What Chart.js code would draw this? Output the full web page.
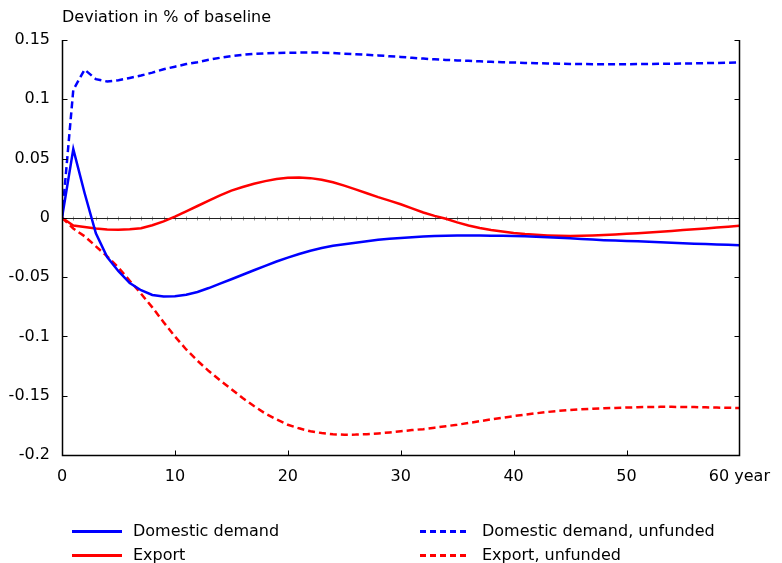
<!DOCTYPE html>
<html>
<head>
<meta charset="utf-8">
<script src="https://cdn.jsdelivr.net/npm/chart.js@4.4.1/dist/chart.umd.min.js"></script>
<style>
    body { margin: 0; background: #fff; }
    #wrap { position: relative; width: 782px; height: 563px; overflow: hidden; }
    .legend-item { position: absolute; height: 20px; font: 16px "DejaVu Sans", sans-serif; color: #000; white-space: nowrap; }
    .legend-line { position: absolute; top: 9px; height: 2.5px; }
    .legend-text { position: absolute; top: 0; line-height: 20px; }
</style>
</head>
<body>
<div id="wrap">
    <canvas id="chart" width="782" height="563"></canvas>
</div>
<script>
// years on the x axis (annual values)
const years = [0, 1, 2, 3, 4, 5, 6, 7, 8, 9, 10, 11, 12, 13, 14, 15, 16, 17, 18, 19, 20,
    21, 22, 23, 24, 25, 26, 27, 28, 29, 30, 31, 32, 33, 34, 35, 36, 37, 38, 39, 40,
    41, 42, 43, 44, 45, 46, 47, 48, 49, 50, 51, 52, 53, 54, 55, 56, 57, 58, 59, 60];

const domesticDemand = [0, 0.058, 0.021, -0.013, -0.033, -0.045, -0.055, -0.061, -0.065, -0.0664, -0.0662,
    -0.0648, -0.0625, -0.0592, -0.0555, -0.0518, -0.048, -0.0442, -0.0405, -0.0368, -0.0335,
    -0.0305, -0.0278, -0.0255, -0.0235, -0.0222, -0.021, -0.0197, -0.0185, -0.0176, -0.017,
    -0.0163, -0.0158, -0.0154, -0.015, -0.0149, -0.0148, -0.0149, -0.015, -0.0151, -0.0153,
    -0.0156, -0.016, -0.0164, -0.0168, -0.0173, -0.0178, -0.0183, -0.0188, -0.0192, -0.0195,
    -0.0198, -0.0202, -0.0206, -0.021, -0.0214, -0.0218, -0.0221, -0.0224, -0.0227, -0.023];

const domesticDemandUnfunded = [0, 0.108, 0.125, 0.117, 0.115, 0.116, 0.118, 0.120, 0.1225, 0.1253, 0.1275,
    0.1297, 0.1313, 0.1333, 0.135, 0.1364, 0.1375, 0.1383, 0.1388, 0.139, 0.1392,
    0.1394, 0.1395, 0.1393, 0.139, 0.1385, 0.138, 0.1375, 0.137, 0.1363, 0.1357,
    0.135, 0.1343, 0.1337, 0.1332, 0.1328, 0.1324, 0.132, 0.1316, 0.1313, 0.131,
    0.1307, 0.1304, 0.1302, 0.130, 0.1298, 0.1297, 0.1296, 0.1296, 0.1296, 0.1296,
    0.1297, 0.1298, 0.1299, 0.130, 0.1302, 0.1303, 0.1305, 0.1306, 0.1308, 0.131];

const exportDemand = [0, -0.0065, -0.0078, -0.009, -0.0098, -0.0101, -0.0097, -0.0088, -0.0062, -0.003, 0.001,
    0.0055, 0.010, 0.0145, 0.019, 0.023, 0.026, 0.0288, 0.031, 0.0328, 0.0338,
    0.034, 0.0335, 0.0322, 0.030, 0.0272, 0.024, 0.0208, 0.0175, 0.0145, 0.0115,
    0.008, 0.0045, 0.0017, -0.0008, -0.0038, -0.0065, -0.0085, -0.0102, -0.0116, -0.0128,
    -0.0137, -0.0143, -0.0148, -0.0151, -0.0152, -0.0151, -0.0148, -0.0145, -0.014, -0.0135,
    -0.0129, -0.0123, -0.0117, -0.011, -0.0103, -0.0096, -0.0089, -0.0081, -0.0074, -0.0067];

const exportUnfunded = [0, -0.009, -0.0155, -0.024, -0.0325, -0.042, -0.053, -0.064, -0.0755, -0.088, -0.100,
    -0.111, -0.1205, -0.1292, -0.137, -0.1445, -0.152, -0.1587, -0.165, -0.170, -0.1745,
    -0.1775, -0.180, -0.1815, -0.1825, -0.1829, -0.1828, -0.1824, -0.1818, -0.181, -0.180,
    -0.179, -0.1782, -0.177, -0.1757, -0.1745, -0.173, -0.1715, -0.170, -0.1686, -0.1672,
    -0.166, -0.1648, -0.1637, -0.1628, -0.1621, -0.1615, -0.161, -0.1606, -0.1603, -0.160,
    -0.1597, -0.1595, -0.1594, -0.1594, -0.1595, -0.1596, -0.1598, -0.160, -0.1602, -0.1604];

const xTicks = [0, 10, 20, 30, 40, 50, 60];
const yTicks = [0.15, 0.1, 0.05, 0, -0.05, -0.1, -0.15, -0.2];

const seriesNames = ['Domestic demand', 'Domestic demand, unfunded', 'Export', 'Export, unfunded'];
const seriesValues = [domesticDemand, domesticDemandUnfunded, exportDemand, exportUnfunded];
const seriesColors = ['#0000ff', '#0000ff', '#ff0000', '#ff0000'];
const seriesDashed = [false, true, false, true];

const FONT = '"DejaVu Sans", sans-serif';

function toPoints(values) {
    return values.map((v, i) => ({ x: years[i], y: v }));
}

// axes frame with inward ticks, zero line with yearly minor ticks, title
const framePlugin = {
    id: 'frame',
    beforeDatasetsDraw(chart) {
        const ctx = chart.ctx;
        const area = chart.chartArea;
        const x = chart.scales.x;
        const y = chart.scales.y;
        const y0 = Math.round(y.getPixelForValue(0)) + 0.5;

        ctx.save();
        ctx.strokeStyle = '#999';
        ctx.lineWidth = 1;
        ctx.beginPath();
        years.forEach(yr => {
            const px = Math.round(x.getPixelForValue(yr)) + 0.5;
            ctx.moveTo(px, y0 - 2);
            ctx.lineTo(px, y0 + 2);
        });
        ctx.stroke();

        ctx.strokeStyle = '#222';
        ctx.lineWidth = 1.2;
        ctx.beginPath();
        ctx.moveTo(area.left, y0);
        ctx.lineTo(area.right, y0);
        ctx.stroke();
        ctx.restore();
    },
    afterDraw(chart) {
        const ctx = chart.ctx;
        const area = chart.chartArea;
        const x = chart.scales.x;
        const y = chart.scales.y;
        const left = Math.round(area.left) + 0.5;
        const right = Math.round(area.right) + 0.5;
        const top = Math.round(area.top);
        const bottom = Math.round(area.bottom) + 0.5;

        ctx.save();
        ctx.strokeStyle = '#000';
        ctx.lineWidth = 1.5;
        ctx.beginPath();
        ctx.moveTo(left, top);
        ctx.lineTo(left, bottom);
        ctx.lineTo(right, bottom);
        ctx.lineTo(right, top);
        ctx.stroke();

        ctx.lineWidth = 1;
        ctx.beginPath();
        yTicks.forEach(v => {
            const py = Math.round(y.getPixelForValue(v)) + 0.5;
            ctx.moveTo(left, py);
            ctx.lineTo(left + 5, py);
            ctx.moveTo(right, py);
            ctx.lineTo(right - 5, py);
        });
        xTicks.forEach(v => {
            const px = Math.round(x.getPixelForValue(v)) + 0.5;
            ctx.moveTo(px, bottom);
            ctx.lineTo(px, bottom - 5);
        });
        ctx.stroke();

        ctx.fillStyle = '#000';
        ctx.font = '16px ' + FONT;
        ctx.textBaseline = 'middle';
        ctx.textAlign = 'left';
        ctx.fillText('Deviation in % of baseline', area.left, 18);
        ctx.restore();
    }
};

const datasets = seriesNames.map((name, i) => ({
    label: name,
    data: toPoints(seriesValues[i]),
    borderColor: seriesColors[i],
    borderWidth: 2.5,
    borderDash: seriesDashed[i] ? [7, 4] : [],
    pointRadius: 0,
    tension: 0,
    fill: false
}));

new Chart(document.getElementById('chart'), {
    type: 'line',
    data: { datasets: datasets },
    options: {
        responsive: false,
        animation: false,
        layout: { padding: { left: 0, right: 41, top: 40, bottom: 0 } },
        plugins: {
            legend: { display: false },
            tooltip: { enabled: false }
        },
        scales: {
            x: {
                type: 'linear',
                min: 0,
                max: 60,
                afterFit: scale => { scale.height = 108; },
                afterBuildTicks: scale => { scale.ticks = xTicks.map(v => ({ value: v })); },
                grid: { display: false, drawTicks: false },
                border: { display: false },
                ticks: {
                    padding: 12,
                    color: '#000',
                    font: { family: FONT, size: 16 },
                    maxRotation: 0,
                    callback: v => v === 60 ? '60 year' : String(v)
                }
            },
            y: {
                min: -0.2,
                max: 0.15,
                afterFit: scale => { scale.width = 62; },
                afterBuildTicks: scale => { scale.ticks = yTicks.map(v => ({ value: v })); },
                grid: { display: false, drawTicks: false },
                border: { display: false },
                ticks: {
                    padding: 12,
                    color: '#000',
                    font: { family: FONT, size: 16 },
                    callback: v => String(Number(v.toFixed(2)))
                }
            }
        }
    },
    plugins: [framePlugin]
});

// legend in two columns under the plot
const legendSpots = [
    { line: 72, text: 133, top: 521 },
    { line: 420, text: 482, top: 521 },
    { line: 72, text: 133, top: 545 },
    { line: 420, text: 482, top: 545 }
];
const wrap = document.getElementById('wrap');
seriesNames.forEach((name, i) => {
    const spot = legendSpots[i];
    const item = document.createElement('div');
    item.className = 'legend-item';
    item.style.left = spot.line + 'px';
    item.style.top = spot.top + 'px';

    const line = document.createElement('div');
    line.className = 'legend-line';
    line.style.left = '0px';
    line.style.width = (seriesDashed[i] ? 47 : 50) + 'px';
    line.style.background = seriesDashed[i]
        ? 'repeating-linear-gradient(to right, ' + seriesColors[i] + ' 0 6px, transparent 6px 10px)'
        : seriesColors[i];

    const text = document.createElement('span');
    text.className = 'legend-text';
    text.style.left = (spot.text - spot.line) + 'px';
    text.textContent = name;

    item.appendChild(line);
    item.appendChild(text);
    wrap.appendChild(item);
});
</script>
</body>
</html>
